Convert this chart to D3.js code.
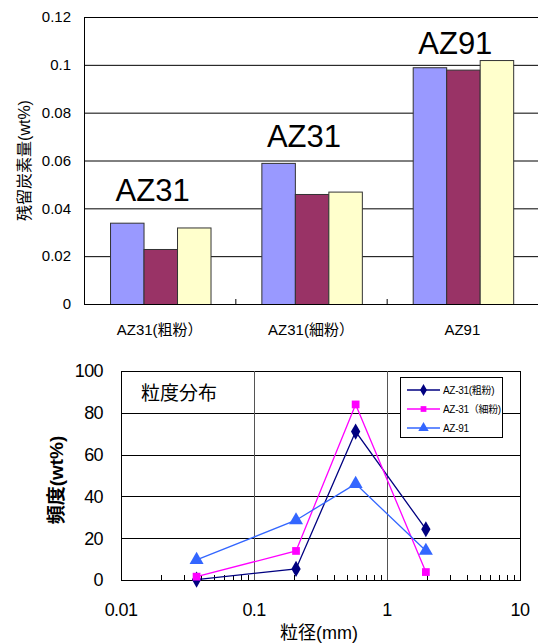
<!DOCTYPE html>
<html><head><meta charset="utf-8">
<script src="https://cdn.jsdelivr.net/npm/d3@7"></script>
<style>
html,body{margin:0;padding:0;background:#fff;}
svg{display:block;font-family:"Liberation Sans",Arial,"Noto Sans CJK JP",sans-serif;}
</style></head><body>
<svg id="c" width="538" height="644"></svg>
<script>
// ---- Top chart data ----
const categories = ["AZ31(粗粉）", "AZ31(細粉）", "AZ91"];
const barSeries = ["s1", "s2", "s3"];
const barColors = ["#9999FF", "#993366", "#FFFFCC"];
const barValues = [
  [0.034, 0.023, 0.032],
  [0.059, 0.046, 0.047],
  [0.099, 0.098, 0.102]
];
const groupLabels = ["AZ31", "AZ31", "AZ91"];
const groupLabelY = [0.0432, 0.0657, 0.1046];
const topTicks = [0, 0.02, 0.04, 0.06, 0.08, 0.1, 0.12];
const topTickLabels = ["0", "0.02", "0.04", "0.06", "0.08", "0.1", "0.12"];

// ---- Bottom chart data ----
const sizes = [0.037, 0.207, 0.581, 1.96];
const lineNames = ["AZ-31(粗粉)", "AZ-31（細粉)", "AZ-91"];
const lineColors = ["#000080", "#FF00FF", "#3366FF"];
const lineSymbols = ["diamond", "square", "triangle"];
const az31Coarse = [0.2, 5.3, 71, 24.3];
const az31Fine = [1.6, 13.9, 84, 3.8];
const az91 = [9.6, 28.6, 46, 14];
const bottomYTicks = [0, 20, 40, 60, 80, 100];
const bottomXTicks = [0.01, 0.1, 1, 10];
const bottomXTickLabels = ["0.01", "0.1", "1", "10"];

const svg = d3.select("#c");

// ================= TOP BAR CHART =================
{
  const L = 84, R = 538, T = 17, B = 304;
  const x0 = d3.scaleBand().domain(categories).range([L, R]).padding(0);
  const bw = x0.bandwidth();
  const x1 = d3.scaleBand().domain(barSeries).range([bw * 0.172, bw * 0.836]).padding(0);
  const y = d3.scaleLinear().domain([0, 0.12]).range([B, T]);

  const g = svg.append("g");
  g.selectAll("line.grid").data(topTicks.slice(1)).enter().append("line")
    .attr("x1", L).attr("x2", R).attr("y1", d => y(d) + 0.5).attr("y2", d => y(d) + 0.5)
    .attr("stroke", "#000").attr("stroke-width", 1);

  categories.forEach((c, i) => {
    barSeries.forEach((s, j) => {
      g.append("rect")
        .attr("x", x0(c) + x1(s) + 0.5)
        .attr("y", y(barValues[i][j]) + 0.5)
        .attr("width", x1.bandwidth())
        .attr("height", y(0) - y(barValues[i][j]))
        .attr("fill", barColors[j])
        .attr("stroke", "#333").attr("stroke-width", 1);
    });
  });

  g.append("line").attr("x1", L + 0.5).attr("x2", L + 0.5).attr("y1", T).attr("y2", B)
    .attr("stroke", "#000");
  g.append("line").attr("x1", L).attr("x2", R).attr("y1", B + 0.5).attr("y2", B + 0.5)
    .attr("stroke", "#000");
  categories.slice(1).forEach(c => {
    g.append("line").attr("x1", x0(c) + 0.5).attr("x2", x0(c) + 0.5)
      .attr("y1", B).attr("y2", B - 5).attr("stroke", "#000");
  });

  g.selectAll("text.yt").data(topTicks).enter().append("text")
    .attr("x", 71).attr("y", d => y(d)).attr("dy", "0.35em")
    .attr("text-anchor", "end").attr("font-size", 15).attr("fill", "#000")
    .text((d, i) => topTickLabels[i]);

  g.selectAll("text.cat").data(categories).enter().append("text")
    .attr("x", d => x0(d) + bw / 2).attr("y", 330).attr("dy", "0.35em")
    .attr("text-anchor", "middle").attr("font-size", 15).attr("fill", "#000")
    .text(d => d);

  categories.forEach((c, i) => {
    g.append("text")
      .attr("x", x0(c) + bw / 2 - 7).attr("y", y(groupLabelY[i]))
      .attr("text-anchor", "middle").attr("font-size", 31).attr("fill", "#000")
      .text(groupLabels[i]);
  });

  g.append("text")
    .attr("transform", `translate(24,${(T + B) / 2}) rotate(-90)`)
    .attr("text-anchor", "middle").attr("dy", "0.35em")
    .attr("font-size", 16).attr("fill", "#000")
    .text("残留炭素量(wt%)");
}

// ================= BOTTOM LINE CHART =================
{
  const L = 121, R = 520, T = 371, B = 580;
  const x = d3.scaleLog().domain([0.01, 10]).range([L, R]);
  const y = d3.scaleLinear().domain([0, 100]).range([B, T]);
  const g = svg.append("g");

  g.selectAll("line.hg").data(bottomYTicks.slice(1)).enter().append("line")
    .attr("x1", L).attr("x2", R).attr("y1", d => Math.round(y(d)) + 0.5).attr("y2", d => Math.round(y(d)) + 0.5)
    .attr("stroke", "#000");
  g.selectAll("line.vg").data(bottomXTicks.slice(1, 3)).enter().append("line")
    .attr("x1", d => Math.round(x(d)) + 0.5).attr("x2", d => Math.round(x(d)) + 0.5)
    .attr("y1", T).attr("y2", B).attr("stroke", "#555");
  g.append("line").attr("x1", R + 0.5).attr("x2", R + 0.5).attr("y1", T).attr("y2", B).attr("stroke", "#000");
  g.append("line").attr("x1", L + 0.5).attr("x2", L + 0.5).attr("y1", T).attr("y2", B).attr("stroke", "#000");
  g.append("line").attr("x1", L).attr("x2", R + 1).attr("y1", B + 0.5).attr("y2", B + 0.5).attr("stroke", "#000");

  const minor = [];
  [0.01, 0.1, 1].forEach(dec => { for (let k = 2; k <= 9; k++) minor.push(dec * k); });
  g.selectAll("line.mt").data(minor).enter().append("line")
    .attr("x1", d => Math.round(x(d)) + 0.5).attr("x2", d => Math.round(x(d)) + 0.5)
    .attr("y1", B).attr("y2", B - 5).attr("stroke", "#000");

  g.selectAll("text.yt").data(bottomYTicks).enter().append("text")
    .attr("x", 103).attr("y", d => y(d)).attr("dy", "0.36em")
    .attr("text-anchor", "end").attr("font-size", 18).attr("letter-spacing", "-0.6")
    .attr("fill", "#000").text(d => d);
  g.selectAll("text.xt").data(bottomXTicks).enter().append("text")
    .attr("x", d => x(d)).attr("y", 610).attr("dy", "0.36em")
    .attr("text-anchor", "middle").attr("font-size", 18).attr("letter-spacing", "-0.6")
    .attr("fill", "#000").text((d, i) => bottomXTickLabels[i]);

  g.append("text").attr("x", 319).attr("y", 633).attr("dy", "0.36em")
    .attr("text-anchor", "middle").attr("font-size", 18).attr("fill", "#000").text("粒径(mm)");
  g.append("text")
    .attr("transform", `translate(56,480) rotate(-90)`)
    .attr("text-anchor", "middle").attr("dy", "0.36em")
    .attr("font-size", 19).attr("font-weight", "bold").attr("fill", "#000").text("頻度(wt%)");
  g.append("text").attr("x", 141).attr("y", 393).attr("dy", "0.36em")
    .attr("font-size", 19).attr("fill", "#000").text("粒度分布");

  const seriesData = [az31Coarse, az31Fine, az91];
  const symMap = { diamond: d3.symbolDiamond, square: d3.symbolSquare, triangle: d3.symbolTriangle };
  const symSize = { diamond: 75, square: 60, triangle: 85 };
  const line = d3.line().x(d => x(d[0])).y(d => y(d[1]));
  seriesData.forEach((vals, i) => {
    const pts = sizes.map((s, k) => [s, vals[k]]);
    g.append("path").attr("d", line(pts)).attr("fill", "none")
      .attr("stroke", lineColors[i]).attr("stroke-width", 1.3);
  });
  seriesData.forEach((vals, i) => {
    const pts = sizes.map((s, k) => [s, vals[k]]);
    g.selectAll(null).data(pts).enter().append("path")
      .attr("transform", d => `translate(${x(d[0])},${y(d[1])})`)
      .attr("d", d3.symbol().type(symMap[lineSymbols[i]]).size(symSize[lineSymbols[i]]))
      .attr("fill", lineColors[i]);
  });

  const lg = g.append("g");
  lg.append("rect").attr("x", 400.5).attr("y", 377.5).attr("width", 102).attr("height", 60)
    .attr("fill", "#fff").attr("stroke", "#000");
  const ly = [390, 409, 428];
  lineNames.forEach((n, i) => {
    lg.append("line").attr("x1", 407).attr("x2", 440).attr("y1", ly[i]).attr("y2", ly[i])
      .attr("stroke", lineColors[i]).attr("stroke-width", 1.3);
    lg.append("path").attr("transform", `translate(423.5,${ly[i]})`)
      .attr("d", d3.symbol().type(symMap[lineSymbols[i]]).size(symSize[lineSymbols[i]] * 0.55))
      .attr("fill", lineColors[i]);
    lg.append("text").attr("x", 443).attr("y", ly[i]).attr("dy", "0.36em")
      .attr("font-size", 10).attr("letter-spacing", "-0.3").attr("fill", "#000").text(n);
  });
}
</script>
</body></html>
